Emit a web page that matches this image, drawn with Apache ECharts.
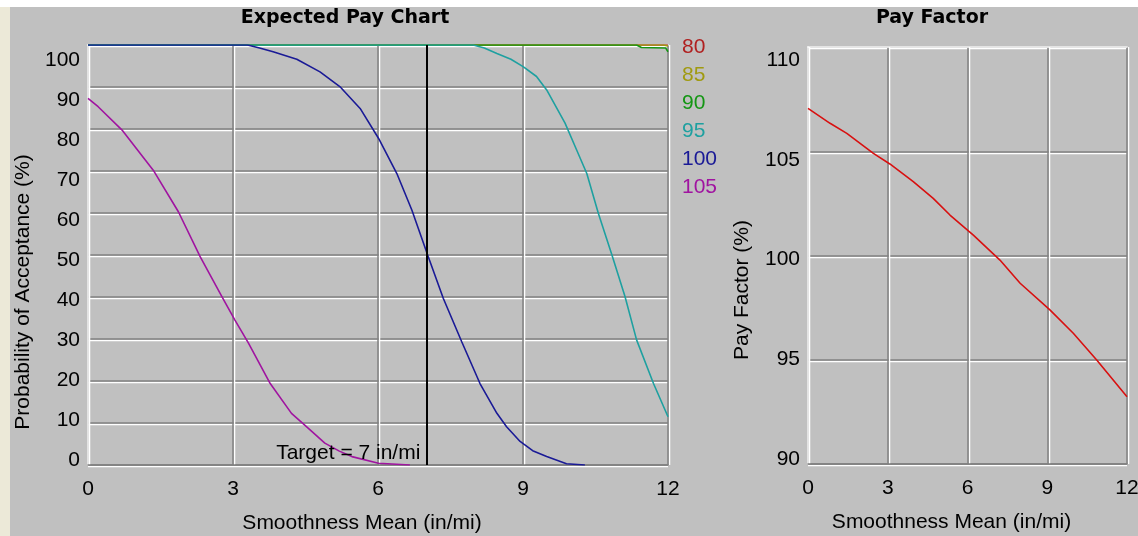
<!DOCTYPE html>
<html>
<head>
<meta charset="utf-8">
<script src="https://cdn.jsdelivr.net/npm/echarts@6/dist/echarts.min.js"></script>
<style>
html,body{margin:0;padding:0;background:#c0c0c0;}
#chart{width:1138px;height:536px;}
</style>
</head>
<body>
<div id="chart"></div>
<script>
// ---- data ----
const legendNames = ['80', '85', '90', '95', '100', '105'];
const legendColors = ['#b02020', '#a09a10', '#149614', '#1ea0a0', '#1a1a96', '#a014a0'];
const xTickInterval = 3;
const yTicksLeft = [0, 10, 20, 30, 40, 50, 60, 70, 80, 90, 100];
const yTicksRight = [90, 95, 100, 105, 110];
const target = 7;
const targetLabel = 'Target = 7 in/mi';

const pa80 = [[0, 100], [12, 100]];
const pa85 = [[0, 100], [11.9, 100], [12, 99.8]];
const pa90 = [[0, 100], [11.35, 100], [11.45, 99.4], [11.95, 99.3], [12, 98.4]];
const pa95 = [[0, 100], [7.97, 100], [8.2, 99.3], [8.46, 98.0], [8.75, 96.6], [9.01, 94.8], [9.28, 92.5], [9.49, 89.3], [9.87, 81.4], [10.11, 75.0], [10.32, 69.4], [10.56, 59.9], [10.84, 50.0], [11.11, 40.1], [11.35, 29.8], [11.7, 19.4], [12, 11.5]];
const pa100 = [[0, 100], [3.3, 100], [3.55, 99.3], [3.83, 98.4], [4.32, 96.6], [4.8, 93.6], [5.21, 90.1], [5.63, 84.9], [6.01, 77.8], [6.39, 69.4], [6.7, 60.7], [7.04, 49.6], [7.35, 39.7], [7.73, 29.4], [8.11, 19.4], [8.46, 12.3], [8.66, 9.1], [8.94, 5.6], [9.2, 3.4], [9.49, 2.0], [9.9, 0.3], [10.28, 0]];
const pa105 = [[0, 87.3], [0.21, 85.3], [0.7, 79.8], [1.35, 70.2], [1.87, 60.3], [2.32, 49.6], [2.77, 40.1], [3.04, 34.5], [3.32, 29.0], [3.77, 19.4], [4.21, 12.3], [4.56, 8.7], [4.9, 5.2], [5.2, 3.3], [5.46, 2.0], [6.01, 0.4], [6.66, 0]];
const payFactor = [[0, 107.06], [0.83, 106.34], [1.46, 105.86], [2.46, 104.9], [3.08, 104.39], [3.96, 103.54], [4.71, 102.74], [5.34, 101.94], [6.22, 100.98], [7.22, 99.78], [7.98, 98.67], [9.1, 97.39], [9.98, 96.27], [10.86, 94.99], [12, 93.23]];

const acceptanceSeries = [pa80, pa85, pa90, pa95, pa100, pa105];

// ---- styling ----
const FONT = 'Liberation Sans';
const TFONT = 'DejaVu Sans';
const GRAY = '#808080';

function xMain(gi, name) {
  return {
    gridIndex: gi, type: 'value', min: 0, max: 12, interval: xTickInterval, position: 'bottom',
    axisLine: { show: true, onZero: false, lineStyle: { color: GRAY, width: 1.5 } },
    axisTick: { show: false },
    axisLabel: { margin: 14, color: '#000', fontSize: 21, fontFamily: FONT },
    splitLine: { show: true, lineStyle: { color: GRAY, width: 1.5, shadowColor: '#ffffff', shadowBlur: 0, shadowOffsetX: 1.5 } },
    name: name, nameLocation: 'middle', nameGap: 48,
    nameTextStyle: { color: '#000', fontSize: 21, fontFamily: FONT, padding: [0, 32, 0, 0] }
  };
}
function xTop(gi) {
  return {
    gridIndex: gi, type: 'value', min: 0, max: 12, position: 'top',
    axisLine: { show: true, onZero: false, lineStyle: { color: '#ffffff', width: 1.5 } },
    axisTick: { show: false }, axisLabel: { show: false }, splitLine: { show: false }
  };
}
function yMain(gi, min, max, interval) {
  return {
    gridIndex: gi, type: 'value', min: min, max: max, interval: interval, position: 'left',
    axisLine: { show: true, onZero: false, lineStyle: { color: '#ffffff', width: 1.5 } },
    axisTick: { show: false }, axisLabel: { show: false },
    splitLine: { show: true, lineStyle: { color: GRAY, width: 1.5, shadowColor: '#ffffff', shadowBlur: 0, shadowOffsetY: 1.5 } }
  };
}
function yLabels(gi, min, max, ticks, name, gap, shift) {
  return {
    gridIndex: gi, type: 'value', min: min, max: max, position: 'left',
    axisLine: { show: false }, axisTick: { show: false }, splitLine: { show: false },
    axisLabel: { customValues: ticks, margin: 8, color: '#000', fontSize: 21, fontFamily: FONT },
    name: name, nameLocation: 'middle', nameRotate: 90, nameGap: gap,
    nameTextStyle: { color: '#000', fontSize: 21, fontFamily: FONT, padding: [0, shift, 0, 0] }
  };
}

const series = acceptanceSeries.map((d, i) => ({
  name: legendNames[i], type: 'line', xAxisIndex: 0, yAxisIndex: 0,
  data: d, showSymbol: false, smooth: false, clip: true,
  lineStyle: { color: legendColors[i], width: 1.6 },
  itemStyle: { color: legendColors[i] },
  emphasis: { disabled: true }
}));
series.push({
  name: 'target', type: 'line', xAxisIndex: 0, yAxisIndex: 0, data: [],
  markLine: {
    silent: true, symbol: ['none', 'none'], label: { show: false },
    lineStyle: { color: '#000', width: 2, type: 'solid' },
    data: [{ xAxis: target }]
  },
  markPoint: {
    silent: true, symbol: 'circle', symbolSize: 0,
    label: { show: true, position: 'left', distance: 6, formatter: targetLabel, color: '#000', fontSize: 21, fontFamily: FONT },
    data: [{ coord: [target, 2.9] }]
  }
});
series.push({
  name: 'Pay Factor', type: 'line', xAxisIndex: 2, yAxisIndex: 2,
  data: payFactor, showSymbol: false, smooth: false,
  lineStyle: { color: '#d81010', width: 1.6 }, emphasis: { disabled: true }
});

const option = {
  backgroundColor: '#c0c0c0',
  animation: false,
  graphic: [
    { type: 'rect', shape: { x: 0, y: 0, width: 1138, height: 7 }, style: { fill: '#ffffff' }, silent: true },
    { type: 'rect', shape: { x: 0, y: 7, width: 10, height: 529 }, style: { fill: '#ece9d8' }, silent: true }
  ],
  title: [
    { text: 'Expected Pay Chart', left: 345, top: 9, textAlign: 'center', padding: 0,
      textStyle: { color: '#000', fontSize: 19, fontWeight: 'bold', fontFamily: TFONT } },
    { text: 'Pay Factor', left: 932, top: 9, textAlign: 'center', padding: 0,
      textStyle: { color: '#000', fontSize: 19, fontWeight: 'bold', fontFamily: TFONT } }
  ],
  legend: {
    orient: 'vertical', left: 677, top: 37, padding: 0, itemGap: 7,
    itemWidth: 0, itemHeight: 0, icon: 'rect', selectedMode: false,
    textStyle: { fontSize: 21, fontFamily: FONT },
    data: legendNames.map((n, i) => ({ name: n, textStyle: { color: legendColors[i] } }))
  },
  grid: [
    { left: 88, top: 45, width: 580, height: 420, outerBoundsMode: 'none', containLabel: false },
    { left: 808, top: 47, width: 319, height: 417, outerBoundsMode: 'none', containLabel: false }
  ],
  xAxis: [
    xMain(0, 'Smoothness Mean (in/mi)'), xTop(0),
    xMain(1, 'Smoothness Mean (in/mi)'), xTop(1)
  ],
  yAxis: [
    yMain(0, 0, 100, 10),
    yLabels(0, -1.25, 103.75, yTicksLeft, 'Probability of Acceptance (%)', 53, 74),
    yMain(1, 90, 110, 5),
    yLabels(1, 89.749, 110.652, yTicksRight, 'Pay Factor (%)', 55, 69)
  ],
  series: series
};

const chart = echarts.init(document.getElementById('chart'), null, { renderer: 'canvas' });
chart.setOption(option);
</script>
</body>
</html>
